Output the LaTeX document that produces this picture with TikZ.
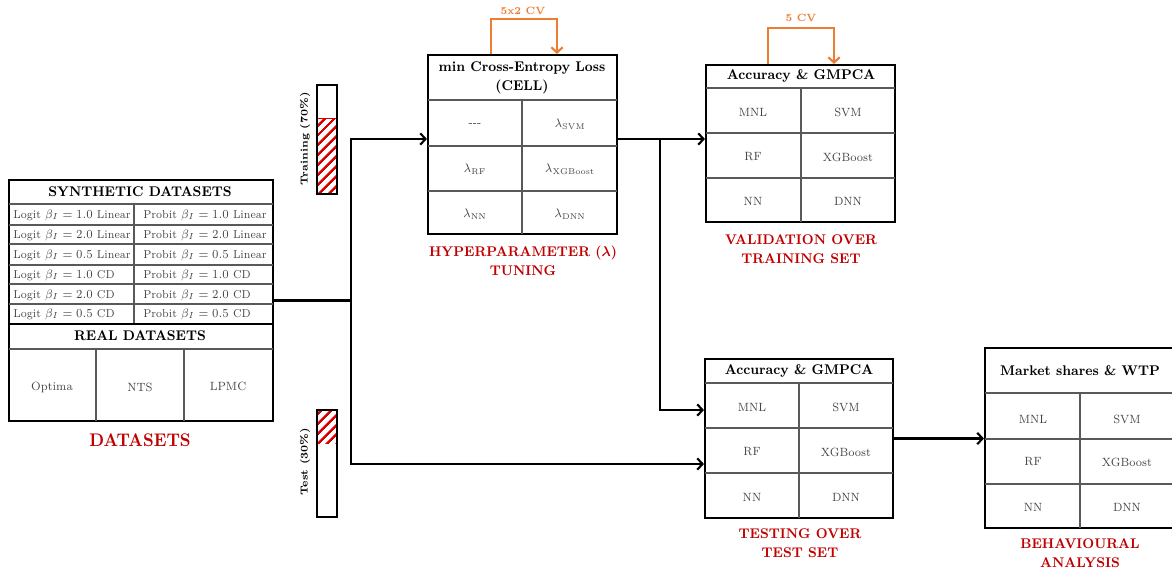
\documentclass[tikz,border=0pt]{standalone}
\usepackage{amsmath,amssymb}
\usepackage{fontspec}
\usepackage{xcolor}
\usepackage{tikz}
\usetikzlibrary{arrows.meta,positioning,calc,fit,patterns.meta}
\definecolor{stepred}{HTML}{C00000}
\definecolor{cvorange}{HTML}{ED7D31}
\definecolor{cellgray}{HTML}{444444}

\tikzset{
  frame/.style={draw, line width=1.2pt, inner sep=0pt},
  inner/.style={draw=black!65, line width=0.6pt},
  flow/.style={-{Straight Barb[length=3pt,width=6.5pt]}, line width=1.2pt},
  cvloop/.style={cvorange, line width=1.2pt, -{Straight Barb[length=3pt,width=6.5pt]}},
  squeeze/.style={xscale=0.92, transform shape},
  cell/.style={squeeze, text=cellgray, font=\fontsize{6.8}{8}\selectfont},
  rowcell/.style={cell, font=\fontsize{6.55}{8}\selectfont, anchor=west, inner sep=0pt},
  head/.style={squeeze, font=\fontsize{8}{10.5}\selectfont\bfseries, align=center},
  steplabel/.style={squeeze, stepred, font=\fontsize{8}{10.5}\selectfont\bfseries, align=center},
  hatch/.style={pattern={Lines[angle=45,distance=4pt,line width=1.4pt]}, pattern color=red!85!black},
}

\begin{document}
\begin{tikzpicture}[x=0.02cm, y=-0.02cm]
\useasboundingbox (0,0) rectangle (1172,572);

% datasets
\node[frame, fit={(9,180) (273,421)}] (data) {};
\node[head] (synth) at (140,192) {SYNTHETIC DATASETS};
\foreach \y in {204,225,244,265,284,304} \draw[inner] (9,\y) -- (273,\y);
\draw[inner] (134,204) -- (134,324);
\foreach \b/\t/\y [count=\i] in {1.0/Linear/215, 2.0/Linear/235, 0.5/Linear/255,
                                 1.0/CD/275, 2.0/CD/295, 0.5/CD/314}{
  \node[rowcell] (logit\i) at (13,\y) {Logit $\beta_I=\b$ \t};
  \node[rowcell] (probit\i) at (143,\y) {Probit $\beta_I=\b$ \t};
}
\draw[line width=1.2pt] (9,324) -- (273,324);
\node[head] (real) at (140,336) {REAL DATASETS};
\draw[inner] (9,349) -- (273,349);
\draw[inner] (96,349) -- (96,421) (184,349) -- (184,421);
\node[cell] (optima) at (52,387) {Optima};
\node[cell] (nts) at (140,387) {NTS};
\node[cell] (lpmc) at (228,386) {LPMC};
\node[steplabel, font=\fontsize{10.4}{12}\selectfont\bfseries] (datalabel) at (140,440) {DATASETS};

% train / test split bars
\fill[hatch] (317,118) rectangle (337,194);
\draw[red!85!black, line width=0.5pt] (317,118) -- (337,118);
\node[frame, line width=0.9pt, fit={(317,85) (337,194)}] (trainbar) {};
\node[rotate=90, font=\fontsize{5.8}{7}\selectfont\bfseries] (trainlabel) at (305,139) {Training (70\%)};
\fill[hatch] (317,410) rectangle (337,443);
\node[frame, line width=0.9pt, fit={(317,410) (337,517)}] (testbar) {};
\node[rotate=90, font=\fontsize{5.8}{7}\selectfont\bfseries] (testlabel) at (305,462) {Test (30\%)};

% hyperparameter tuning
\node[frame, fit={(428,55) (617,234)}] (hyp) {};
\node[head] (cell) at (522,78) {min Cross-Entropy Loss\\(CELL)};
\foreach \y in {100,146,191} \draw[inner] (428,\y) -- (617,\y);
\draw[inner] (522,100) -- (522,234);
\node[cell] (lnone) at (475,125) {-{}-{}-};
\node[cell] (lsvm) at (570,124) {$\lambda_{\mathrm{SVM}}$};
\node[cell] (lrf) at (475,169) {$\lambda_{\mathrm{RF}}$};
\node[cell] (lxgb) at (570,169) {$\lambda_{\mathrm{XGBoost}}$};
\node[cell] (lnn) at (475,214) {$\lambda_{\mathrm{NN}}$};
\node[cell] (ldnn) at (570,214) {$\lambda_{\mathrm{DNN}}$};
\draw[cvloop] ([xshift=-0.63cm]hyp.north) -- ++(0,-35) -| ([xshift=0.69cm]hyp.north);
\node[squeeze, cvorange, font=\fontsize{6}{7}\selectfont\bfseries] (cvhyp) at (523,11) {5x2 CV};
\node[steplabel] (hyplabel) at (523,261) {HYPERPARAMETER ($\boldsymbol\lambda$)\\TUNING};

% validation
\node[frame, fit={(706,65) (895,222)}] (val) {};
\node[head] (valhead) at (801,76) {Accuracy \& GMPCA};
\foreach \y in {88,133,178} \draw[inner] (706,\y) -- (895,\y);
\draw[inner] (801,88) -- (801,222);
\foreach \a/\b/\y [count=\i] in {MNL/SVM/112, RF/XGBoost/157, NN/DNN/201}{
  \node[cell] (vala\i) at (753,\y) {\a};
  \node[cell] (valb\i) at (848,\y) {\b};
}
\draw[cvloop] ([xshift=-0.65cm]val.north) -- ++(0,-36) -| ([xshift=0.67cm]val.north);
\node[squeeze, cvorange, font=\fontsize{6}{7}\selectfont\bfseries] (cvval) at (801,18) {5 CV};
\node[steplabel] (vallabel) at (801,249) {VALIDATION OVER\\TRAINING SET};

% testing
\node[frame, fit={(705,359) (893,518)}] (test) {};
\node[head] (testhead) at (799,371) {Accuracy \& GMPCA};
\foreach \y in {383,428,473} \draw[inner] (705,\y) -- (893,\y);
\draw[inner] (799,383) -- (799,518);
\foreach \a/\b/\y [count=\i] in {MNL/SVM/407, RF/XGBoost/452, NN/DNN/497}{
  \node[cell] (testa\i) at (752,\y) {\a};
  \node[cell] (testb\i) at (846,\y) {\b};
}
\node[steplabel] (testlabel2) at (800,543) {TESTING OVER\\TEST SET};

% behavioural analysis
\node[frame, fit={(985,348) (1175,528)}] (beh) {};
\node[head] (behhead) at (1080,371) {Market shares \& WTP};
\foreach \y in {393,439,484} \draw[inner] (985,\y) -- (1175,\y);
\draw[inner] (1080,393) -- (1080,528);
\foreach \a/\b/\y [count=\i] in {MNL/SVM/419, RF/XGBoost/462, NN/DNN/507}{
  \node[cell] (beha\i) at (1033,\y) {\a};
  \node[cell] (behb\i) at (1127,\y) {\b};
}
\node[steplabel] (behlabel) at (1080,553) {BEHAVIOURAL\\ANALYSIS};

% connectors
\coordinate (split) at ($(data.east)+(77,0)$);
\coordinate (branch) at (660,139);
\draw[line width=1.2pt] (data.east) -- (split);
\draw[flow] (split) |- ([yshift=0.11cm]hyp.west);
\draw[flow] (split) |- ([yshift=-0.51cm]test.west);
\draw[flow] ([yshift=0.11cm]hyp.east) -- ([yshift=0.11cm]hyp.east -| val.west);
\draw[flow] (branch) |- ([yshift=0.57cm]test.west);
\draw[flow] (test.east) -- (test.east -| beh.west);
\end{tikzpicture}
\end{document}
